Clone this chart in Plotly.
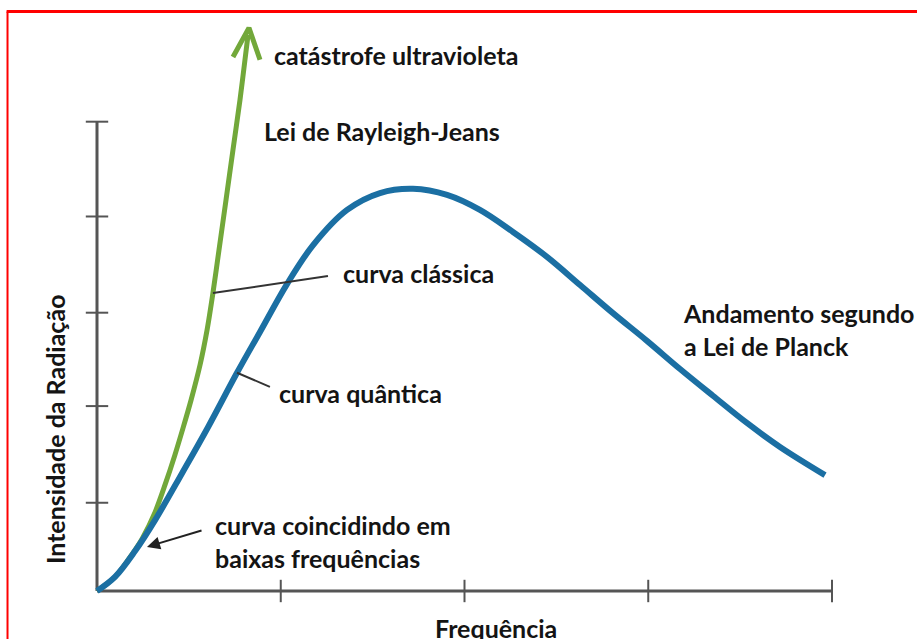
import plotly.graph_objects as go

# frequência (unidades arbitrárias) e intensidade (0-100)
planck_x = [0, 0.098, 0.207, 0.316, 0.463, 0.604, 0.762, 0.887, 1.034, 1.176, 1.361, 1.540,
            1.720, 1.905, 2.084, 2.264, 2.449, 2.629, 2.808, 2.993, 3.173, 3.352, 3.537,
            3.717, 3.962]
planck_y = [0, 3.0, 8.5, 15.1, 25.1, 34.9, 46.5, 55.2, 65.4, 73.7, 81.2, 84.8,
            85.7, 84.4, 81.2, 76.5, 71.2, 65.2, 59.2, 53.3, 47.3, 41.6, 35.8,
            30.7, 24.7]

rj_x = [0, 0.098, 0.169, 0.245, 0.316, 0.370, 0.424, 0.468, 0.512, 0.561, 0.599, 0.631,
        0.664, 0.702, 0.740, 0.778, 0.805, 0.822]
rj_y = [0, 3.0, 6.6, 11.1, 16.8, 22.6, 29.0, 34.7, 40.7, 48.2, 55.6, 63.5,
        72.7, 83.3, 94.0, 104.6, 113.1, 118.5]

arrow_head_x = [0.740, 0.827, 0.887]
arrow_head_y = [113.8, 120.0, 113.2]

x_ticks = [1, 2, 3, 4]
y_ticks = [18.8, 39.4, 59.3, 79.8, 100]

blue = '#1B6FA3'
green = '#72A83A'
axis_col = '#555555'
txt_col = '#141414'
font_family = 'Lato'

fig = go.Figure()

# eixos
fig.add_trace(go.Scatter(x=[0, x_ticks[-1]], y=[0, 0], mode='lines',
                         line=dict(color=axis_col, width=3), hoverinfo='skip'))
fig.add_trace(go.Scatter(x=[0, 0], y=[0, y_ticks[-1]], mode='lines',
                         line=dict(color=axis_col, width=3), hoverinfo='skip'))
fig.add_trace(go.Scatter(x=x_ticks, y=[0] * len(x_ticks), mode='markers',
                         marker=dict(symbol='line-ns', size=16, line=dict(color=axis_col, width=2)),
                         hoverinfo='skip'))
fig.add_trace(go.Scatter(x=[0] * len(y_ticks), y=y_ticks, mode='markers',
                         marker=dict(symbol='line-ew', size=16, line=dict(color=axis_col, width=2)),
                         hoverinfo='skip'))

# curvas
fig.add_trace(go.Scatter(x=rj_x, y=rj_y, mode='lines',
                         line=dict(color=green, width=5, shape='spline', smoothing=0.8),
                         hoverinfo='skip'))
fig.add_trace(go.Scatter(x=arrow_head_x, y=arrow_head_y, mode='lines',
                         line=dict(color=green, width=5), hoverinfo='skip'))
fig.add_trace(go.Scatter(x=planck_x, y=planck_y, mode='lines',
                         line=dict(color=blue, width=6, shape='spline', smoothing=1.0),
                         hoverinfo='skip'))

# linhas indicadoras
fig.add_trace(go.Scatter(x=[0.631, 1.257], y=[63.5, 67.1], mode='lines',
                         line=dict(color='#333333', width=2), hoverinfo='skip'))
fig.add_trace(go.Scatter(x=[0.762, 0.941], y=[46.5, 43.5], mode='lines',
                         line=dict(color='#333333', width=2), hoverinfo='skip'))

fig.add_annotation(x=0.272, y=9.4, ax=0.577, ay=13.0, xref='x', yref='y', axref='x', ayref='y',
                   text='', showarrow=True, arrowhead=2, arrowsize=1.3, arrowwidth=2,
                   arrowcolor='#222222')

labels = [
    (0.952, 114.2, 'catástrofe ultravioleta'),
    (0.898, 98.0, 'Lei de Rayleigh-Jeans'),
    (1.328, 67.8, 'curva clássica'),
    (3.178, 55.7, 'Andamento segundo<br>a Lei de Planck'),
    (0.980, 42.2, 'curva quântica'),
    (0.631, 10.65, 'curva coincidindo em<br>baixas frequências'),
]
for lx, ly, lt in labels:
    fig.add_annotation(x=lx, y=ly, xref='x', yref='y', text=lt, showarrow=False,
                       xanchor='left', yanchor='middle', align='left',
                       font=dict(family=font_family, size=25, color=txt_col, weight='bold'))

fig.add_annotation(x=2.171, y=-7.9, xref='x', yref='y', text='Frequência', showarrow=False,
                   xanchor='center', yanchor='middle',
                   font=dict(family=font_family, size=25, color=txt_col, weight='bold'))
fig.add_annotation(x=-0.229, y=34.5, xref='x', yref='y', text='Intensidade da Radiação',
                   showarrow=False, textangle=-90, xanchor='center', yanchor='middle',
                   font=dict(family=font_family, size=25, color=txt_col, weight='bold'))

# moldura vermelha
fig.add_shape(type='line', xref='paper', yref='paper', x0=0.0082, x1=0.0082, y0=-0.01, y1=0.982,
              line=dict(color='#FF0000', width=2))
fig.add_shape(type='line', xref='paper', yref='paper', x0=0.0072, x1=1.01, y0=0.982, y1=0.982,
              line=dict(color='#FF0000', width=3))

fig.update_layout(
    width=917, height=639,
    margin=dict(l=0, r=0, t=0, b=0),
    paper_bgcolor='white', plot_bgcolor='white',
    showlegend=False,
    xaxis=dict(range=[-0.5279, 4.4626], visible=False),
    yaxis=dict(range=[-10.23, 125.93], visible=False),
)

fig.write_html('out.html', config={'displayModeBar': False},
               post_script="document.body.style.margin='0';document.body.style.overflow='hidden';")
